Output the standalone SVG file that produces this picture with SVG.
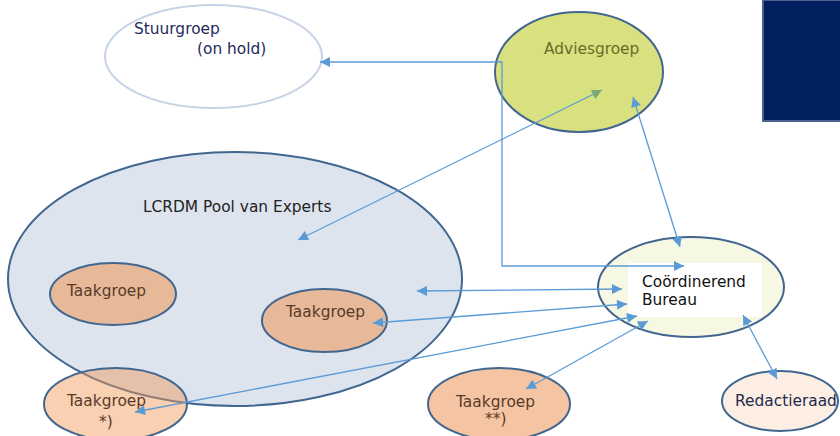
<svg xmlns="http://www.w3.org/2000/svg" width="840" height="436" viewBox="0 0 840 436">
<defs>
<style>
text{font-family:"DejaVu Sans","Liberation Sans",sans-serif;font-size:15.4px}
.node{stroke:#41668f;stroke-width:2}
.conn{fill:none;stroke:#5b9bd5;stroke-width:1.3}
.tg{fill:#5a3a28}
</style>
<marker id="ah" viewBox="0 0 10 10" refX="10" refY="5" markerWidth="13" markerHeight="10" markerUnits="userSpaceOnUse" orient="auto-start-reverse">
<path d="M0,0 L10,5 L0,10 Z" fill="#5b9bd5"/>
</marker>
<marker id="ahg" viewBox="0 0 10 10" refX="10" refY="5" markerWidth="13" markerHeight="10" markerUnits="userSpaceOnUse" orient="auto-start-reverse">
<path d="M0,0 L10,5 L0,10 Z" fill="#7aaa78"/>
</marker>
</defs>
<rect width="840" height="436" fill="#ffffff"/>
<g id="banner">
<rect x="763" y="0" width="78" height="121" fill="#002060" stroke="#4d6090" stroke-width="2"/>
</g>
<g id="stuurgroep">
<ellipse cx="213.5" cy="56.5" rx="108.5" ry="51.5" fill="#ffffff" stroke="#c5d3e5" stroke-width="2"/>
<text x="134" y="34" fill="#1f2b5c">Stuurgroep</text>
<text x="197" y="54" fill="#1f2b5c">(on hold)</text>
</g>
<g id="adviesgroep">
<ellipse class="node" cx="579" cy="72" rx="84" ry="60" fill="#d9e07f"/>
<text x="544" y="54" fill="#6a6b2a">Adviesgroep</text>
</g>
<g id="pool">
<ellipse class="node" cx="235" cy="279" rx="227" ry="127" fill="#dde4ee"/>
<text x="143" y="212" fill="#222222">LCRDM Pool van Experts</text>
</g>
<g id="taakgroep3">
<ellipse class="node" cx="115.5" cy="404" rx="71.5" ry="36" fill="#f29958" fill-opacity="0.46"/>
<text class="tg" x="67" y="406">Taakgroep</text>
<text class="tg" x="99" y="427">*)</text>
</g>
<g id="taakgroep1">
<ellipse class="node" cx="113" cy="294" rx="63" ry="31" fill="#e7b999"/>
<text class="tg" x="67" y="296">Taakgroep</text>
</g>
<g id="taakgroep2">
<ellipse class="node" cx="324.5" cy="320.5" rx="62.5" ry="31.5" fill="#e7b999"/>
<text class="tg" x="286" y="317">Taakgroep</text>
</g>
<g id="taakgroep4">
<ellipse class="node" cx="499" cy="404" rx="71" ry="36" fill="#f5c4a3"/>
<text class="tg" x="456" y="407">Taakgroep</text>
<text class="tg" x="485" y="424">**)</text>
</g>
<g id="bureau">
<ellipse class="node" cx="691" cy="287" rx="93" ry="50" fill="#f7f8e4"/>
<rect x="628" y="263" width="134" height="54" fill="#ffffff"/>
<text x="642" y="287" fill="#111111">Coördinerend</text>
<text x="642" y="305" fill="#111111">Bureau</text>
</g>
<g id="redactieraad">
<ellipse class="node" cx="780" cy="401" rx="58" ry="30" fill="#fdeee4"/>
<text x="735" y="406" fill="#1f2b4c">Redactieraad</text>
</g>
<g id="connectors">
<polyline class="conn" points="320,62 502,62 502,266 684,266" marker-start="url(#ah)" marker-end="url(#ah)"/>
<line class="conn" x1="298" y1="240" x2="602" y2="90" marker-start="url(#ah)" marker-end="url(#ahg)"/>
<line class="conn" x1="633" y1="97" x2="680" y2="247" marker-start="url(#ah)" marker-end="url(#ah)"/>
<line class="conn" x1="417" y1="291" x2="622" y2="289" marker-start="url(#ah)" marker-end="url(#ah)"/>
<line class="conn" x1="373" y1="323" x2="627" y2="304" marker-start="url(#ah)" marker-end="url(#ah)"/>
<line class="conn" x1="135" y1="412" x2="637" y2="316" marker-start="url(#ah)" marker-end="url(#ah)"/>
<line class="conn" x1="526" y1="389" x2="648" y2="321" marker-start="url(#ah)" marker-end="url(#ah)"/>
<line class="conn" x1="743" y1="315" x2="777" y2="379" marker-start="url(#ah)" marker-end="url(#ah)"/>
</g>
</svg>
